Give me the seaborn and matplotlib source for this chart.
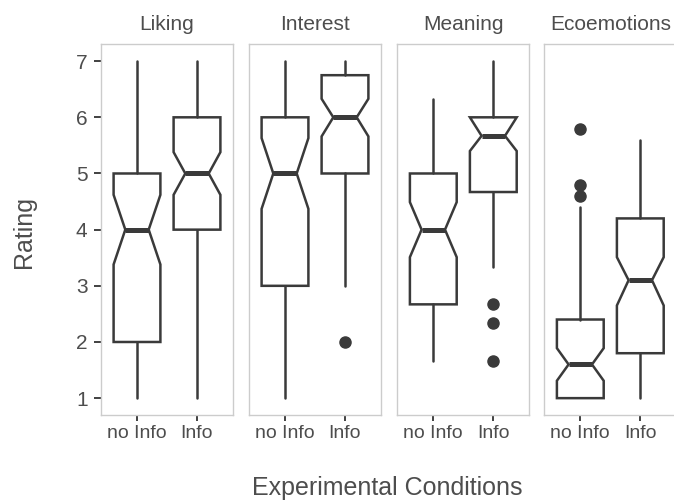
import matplotlib.pyplot as plt
import seaborn as sns

# facets and conditions
facets = ['Liking', 'Interest', 'Meaning', 'Ecoemotions']
conditions = ['no Info', 'Info']

# box summaries, [facet][condition]
whislo = [[1, 1], [1, 3], [1.67, 3.33], [1, 1]]
q1 = [[2, 4], [3, 5], [2.67, 4.67], [1, 1.8]]
med = [[4, 5], [5, 6], [4, 5.67], [1.6, 3.1]]
q3 = [[5, 6], [6, 6.75], [5, 6], [2.4, 4.2]]
whishi = [[7, 7], [7, 7], [6.33, 7], [4.4, 5.6]]
notch_lo = [[3.38, 4.62], [4.37, 5.66], [3.51, 5.40], [1.31, 2.65]]
notch_hi = [[4.62, 5.38], [5.63, 6.33], [4.49, 6.0], [1.89, 3.51]]
outliers = [[[], []], [[], [2]], [[], [2.67, 2.33, 1.67]], [[5.8, 4.8, 4.6], []]]

sns.set_theme(style="white")
plt.rcParams['font.family'] = ['Liberation Sans', 'DejaVu Sans']

W, H = 674, 504
fig = plt.figure(figsize=(W / 100, H / 100), dpi=100)

lefts = [101, 249, 397.3, 544.3]
pw = 132
top, bottom = 44.3, 415

line_c = '#3a3a3a'
text_c = '#4d4d4d'
border_c = '#cccccc'

for i, name in enumerate(facets):
    ax = fig.add_axes([lefts[i] / W, 1 - bottom / H, pw / W, (bottom - top) / H])
    stats = []
    for j in range(2):
        stats.append(dict(label=conditions[j], whislo=whislo[i][j], q1=q1[i][j],
                          med=med[i][j], q3=q3[i][j], whishi=whishi[i][j],
                          cilo=notch_lo[i][j], cihi=notch_hi[i][j],
                          fliers=outliers[i][j]))
    ax.bxp(stats, positions=[0, 1], widths=0.78, shownotches=True, showcaps=False,
           patch_artist=True,
           boxprops=dict(facecolor='white', edgecolor=line_c, linewidth=1.8),
           whiskerprops=dict(color=line_c, linewidth=1.8),
           medianprops=dict(color=line_c, linewidth=3.6, solid_capstyle='butt'),
           flierprops=dict(marker='o', markerfacecolor=line_c, markeredgecolor=line_c,
                           markersize=8))
    ax.set_xlim(-0.6, 1.6)
    ax.set_ylim(0.7, 7.3)
    ax.set_yticks(range(1, 8))
    ax.set_xticks([0, 1])
    ax.set_xticklabels(conditions)
    ax.set_facecolor('white')
    ax.grid(False)
    for sp in ax.spines.values():
        sp.set_color(border_c)
        sp.set_linewidth(1.0)
    # last panel runs off the right edge in the original
    if i == len(facets) - 1:
        ax.spines['right'].set_visible(False)
    ax.tick_params(axis='x', bottom=True, direction='out', length=4.5, width=1.3,
                   color='#333333', labelsize=14, labelcolor=text_c, pad=3)
    if i == 0:
        ax.tick_params(axis='y', left=True, direction='out', length=4.7, width=1.3,
                       color='#333333', labelsize=15, labelcolor=text_c, pad=5)
    else:
        ax.tick_params(axis='y', left=False, labelleft=False)
    ax.set_title(name, fontsize=15, color=text_c, pad=10)

fig.text(387 / W, 1 - 495 / H, 'Experimental Conditions', ha='center', va='baseline',
         fontsize=18, color=text_c)
fig.text(24 / W, 1 - 231.7 / H, 'Rating', rotation=90, ha='center', va='center',
         fontsize=18, color=text_c)

fig.savefig('out.png', dpi=100)
